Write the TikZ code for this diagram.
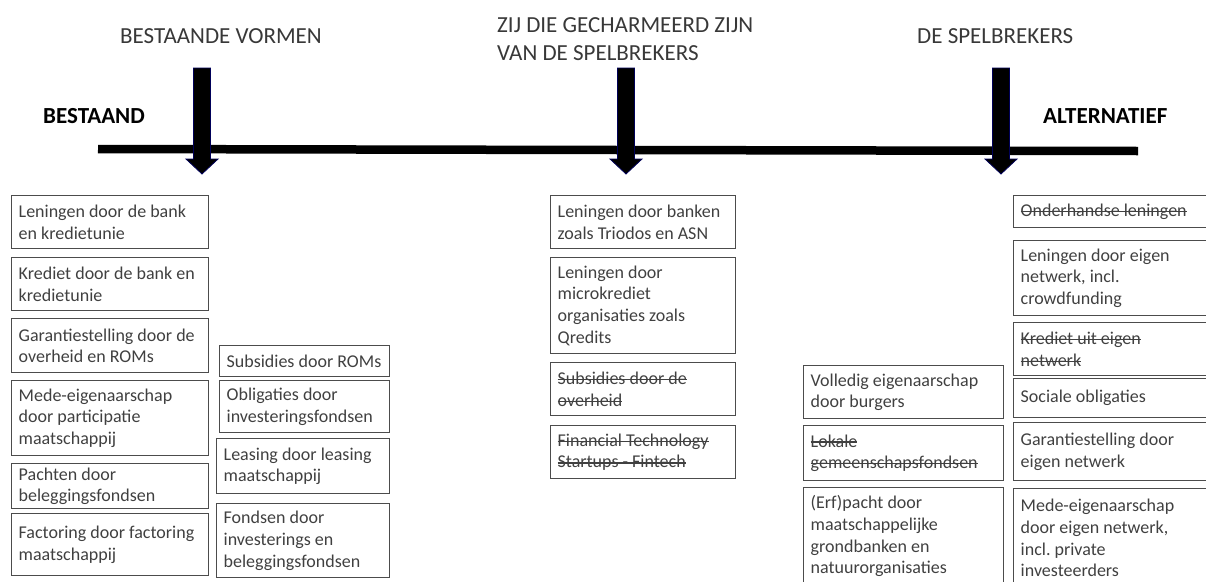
\documentclass[tikz,border=0pt]{standalone}
\usepackage{fontspec}
\setmainfont{Carlito}
% strike-through for a single, unbreakable line of text
\newcommand\strk[1]{\leavevmode\hbox{\setbox0=\hbox{#1}\rlap{\rule[0.24em]{\wd0}{0.07em}}\box0}}
\begin{document}
\begin{tikzpicture}[x=1pt,y=-1pt,
  box/.style={draw=black!70, line width=1.4pt, anchor=north west,
    inner xsep=7pt, inner ysep=0pt, align=flush left,
    font=\fontsize{18}{21.7}\selectfont, text=black!75},
  heading/.style={font=\fontsize{23}{28}\selectfont, text=black!78,
    inner sep=0pt, align=flush left},
  pole/.style={font=\fontsize{23}{28}\selectfont\bfseries, text=black,
    inner sep=0pt},
  downarrow/.style={fill=black, draw=blue!35!black, line width=0.8pt}
]
\useasboundingbox (0,0) rectangle (1206,581);
\clip (0,0) rectangle (1206,581);

% axis from existing to alternative forms
\coordinate (axisL) at (98,149);
\coordinate (axisR) at (1138,151);
\draw[line width=8.5pt] (axisL) -- (axisR);

% block arrows pointing down onto the axis
\foreach \cx in {202,626,1001}
  \draw[downarrow] (\cx-8.5,68) -- (\cx+8.5,68) -- (\cx+8.5,159)
    -- (\cx+16,159) -- (\cx,174) -- (\cx-16,159) -- (\cx-8.5,159) -- cycle;

% headings
\node[heading, anchor=base west] (hBest) at (120,43) {BESTAANDE VORMEN};
\node[heading, anchor=north west] (hCharm) at (497,17) {ZIJ DIE GECHARMEERD ZIJN\\VAN DE SPELBREKERS};
\node[heading, anchor=base west] (hSpel) at (917,43) {DE SPELBREKERS};
\node[pole, anchor=base west] (pBest) at (43,123) {BESTAAND};
\node[pole, anchor=base west] (pAlt) at (1043,123) {ALTERNATIEF};

% existing forms, first column
\node[box, text width=183pt, minimum height=53pt] (L1) at (11,195) {Leningen door de bank\\en kredietunie};
\node[box, text width=183pt, minimum height=53pt] (L2) at (11,257) {Krediet door de bank en\\kredietunie};
\node[box, text width=183pt, minimum height=54pt] (L3) at (11,318) {Garantiestelling door de\\overheid en ROMs};
\node[box, text width=183pt, minimum height=75pt] (L4) at (11,380) {Mede-eigenaarschap\\door participatie\\maatschappij};
\node[box, text width=183pt, minimum height=45pt] (L5) at (11,463) {Pachten door\\beleggingsfondsen};
\node[box, text width=183pt, minimum height=62pt] (L6) at (11,513) {Factoring door factoring\\maatschappij};

% existing forms, second column
\node[box, text width=156pt, minimum height=31pt] (S1) at (219,345) {Subsidies door ROMs};
\node[box, text width=156pt, minimum height=52pt] (S2) at (219,380) {Obligaties door\\investeringsfondsen};
\node[box, text width=159pt, minimum height=55pt] (S3) at (216,438) {Leasing door leasing\\maatschappij};
\node[box, text width=159pt, minimum height=74pt] (S4) at (216,503) {Fondsen door\\investerings en\\beleggingsfondsen};

% charmed by the game changers
\node[box, text width=171pt, minimum height=53pt] (M1) at (550,195) {Leningen door banken\\zoals Triodos en ASN};
\node[box, text width=171pt, minimum height=96pt] (M2) at (550,257) {Leningen door\\microkrediet\\organisaties zoals\\Qredits};
\node[box, text width=171pt, minimum height=53pt] (M3) at (550,362) {\strk{Subsidies door de}\\\strk{overheid}};
\node[box, text width=171pt, minimum height=53pt] (M4) at (550,425) {\strk{Financial Technology}\\\strk{Startups - Fintech}};

% game changers, first column
\node[box, text width=186pt, minimum height=53pt] (R1) at (803,365) {Volledig eigenaarschap\\door burgers};
\node[box, text width=186pt, minimum height=55pt] (R2) at (803,425) {\strk{Lokale}\\\strk{gemeenschapsfondsen}};
\node[box, text width=186pt, minimum height=97pt] (R3) at (803,487) {(Erf)pacht door\\maatschappelijke\\grondbanken en\\natuurorganisaties};

% game changers, second column
\node[box, text width=186pt, minimum height=32pt] (A1) at (1013,195) {\strk{Onderhandse leningen}};
\node[box, text width=186pt, minimum height=75pt] (A2) at (1013,240) {Leningen door eigen\\netwerk, incl.\\crowdfunding};
\node[box, text width=186pt, minimum height=53pt] (A3) at (1013,322) {\strk{Krediet uit eigen}\\\strk{netwerk}};
\node[box, text width=186pt, minimum height=39pt] (A4) at (1013,378) {Sociale obligaties};
\node[box, text width=186pt, minimum height=58pt] (A5) at (1013,422) {Garantiestelling door\\eigen netwerk};
\node[box, text width=186pt, minimum height=99pt] (A6) at (1013,488) {Mede-eigenaarschap\\door eigen netwerk,\\incl.\ private\\investeerders};
\end{tikzpicture}
\end{document}
